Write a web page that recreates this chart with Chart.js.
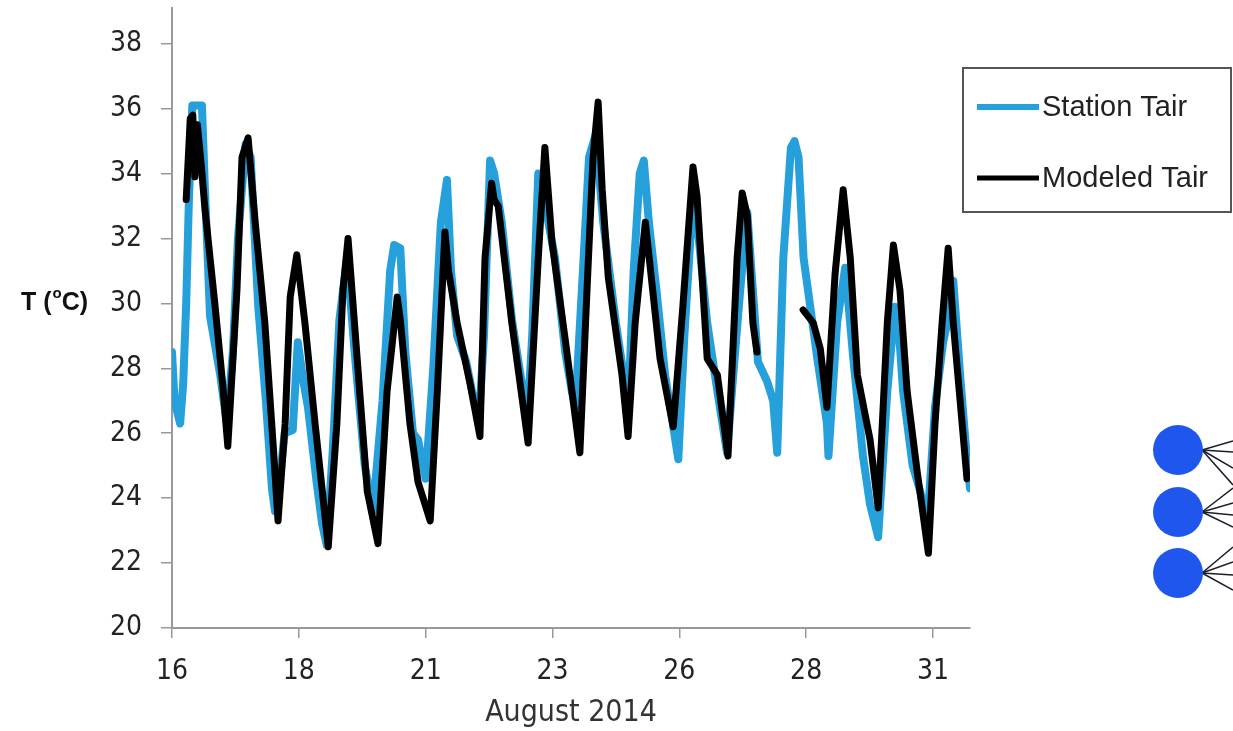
<!DOCTYPE html>
<html>
<head>
<meta charset="utf-8">
<title>Station vs Modeled Tair</title>
<script src="https://cdn.jsdelivr.net/npm/chart.js@4.4.1/dist/chart.umd.min.js"></script>
<style>
  html, body { margin: 0; padding: 0; background: #fff; }
  #wrap { width: 1233px; height: 731px; }
</style>
</head>
<body>
<div id="wrap"><canvas id="tairChart" width="1233" height="731"></canvas></div>
<script>
// Station Tair (day of August 2014, deg C)
const stationDays = [16.00, 16.05, 16.16, 16.22, 16.28, 16.33, 16.40, 16.59, 16.65, 16.75, 16.95, 17.08,
  17.20, 17.30, 17.45, 17.55, 17.70, 17.85, 17.97, 18.03, 18.12, 18.22, 18.38, 18.48, 18.60, 18.68,
  18.85, 18.96, 19.05, 19.17, 19.30, 19.45, 19.60, 19.80, 19.96, 20.15, 20.30, 20.38, 20.50, 20.60,
  20.75, 20.85, 21.00, 21.15, 21.30, 21.42, 21.50, 21.62, 21.80, 21.95, 22.05, 22.15, 22.27, 22.35,
  22.50, 22.70, 22.90, 23.02, 23.10, 23.22, 23.30, 23.55, 23.75, 23.88, 23.95, 24.10, 24.22, 24.35,
  24.50, 24.75, 24.95, 25.00, 25.10, 25.22, 25.30, 25.40, 25.55, 25.72, 25.85, 25.98, 26.10, 26.27,
  26.35, 26.55, 26.75, 26.94, 27.10, 27.20, 27.34, 27.40, 27.55, 27.73, 27.85, 27.93, 28.05, 28.20,
  28.27, 28.35, 28.45, 28.72, 28.91, 28.94, 29.11, 29.27, 29.43, 29.62, 29.76, 29.92, 30.10, 30.25,
  30.30, 30.41, 30.60, 30.75, 30.89, 31.04, 31.20, 31.28, 31.40, 31.55, 31.68, 31.73];
const stationTemp = [28.5, 27.0, 26.3, 27.5, 30.0, 33.0, 36.1, 36.1, 33.5, 29.6, 27.8, 26.3,
  28.5, 32.0, 34.9, 34.5, 29.9, 27.0, 24.3, 23.6, 24.5, 26.0, 26.1, 28.8, 27.5, 26.8,
  24.5, 23.2, 22.55, 25.5, 29.5, 31.4, 28.5, 25.0, 23.6, 27.0, 31.0, 31.8, 31.7, 28.5,
  26.0, 25.8, 24.6, 28.0, 32.5, 33.8, 31.0, 29.0, 28.2, 27.0, 26.4, 29.0, 34.4, 34.0,
  32.5, 29.5, 27.5, 26.8, 29.0, 34.0, 33.5, 31.4, 28.5, 27.3, 26.8, 31.0, 34.5, 35.2,
  32.5, 29.4, 27.3, 27.0, 31.0, 34.0, 34.4, 32.5, 30.4, 27.8, 26.5, 25.2, 29.0, 33.3,
  32.5, 29.4, 27.3, 25.4, 28.5, 30.4, 32.8, 31.5, 28.2, 27.6, 27.0, 25.4, 31.4, 34.8,
  35.0, 34.5, 31.4, 28.3, 26.3, 25.3, 29.4, 31.1, 28.3, 25.3, 23.8, 22.8, 27.3, 29.9,
  29.8, 27.3, 25.0, 24.2, 23.2, 26.8, 28.8, 29.4, 30.7, 27.5, 25.0, 24.3];

// Modeled Tair (null = no model output)
const modeledDays = [16.28, 16.36, 16.41, 16.45, 16.50, 16.58, 16.65, 16.85, 17.00, 17.10, 17.28, 17.38,
  17.50, 17.64, 17.83, 18.00, 18.09, 18.23, 18.33, 18.46, 18.62, 18.82, 19.08, 19.25, 19.37, 19.47,
  19.65, 19.85, 20.06, 20.24, 20.44, 20.50, 20.69, 20.85, 21.09, 21.23, 21.38, 21.45, 21.62, 21.88,
  22.07, 22.17, 22.30, 22.35, 22.43, 22.70, 23.02, 23.22, 23.35, 23.49, 23.75, 24.04, 24.18, 24.30,
  24.40, 24.48, 24.60, 24.87, 24.99, 25.13, 25.33, 25.40, 25.62, 25.88, 26.07, 26.27, 26.35, 26.55,
  26.75, 26.96, 27.14, 27.24, 27.34, 27.45, 27.53, 27.60, 28.44, 28.64, 28.78, 28.91, 29.07, 29.23,
  29.37, 29.51, 29.76, 29.92, 30.10, 30.22, 30.35, 30.49, 30.69, 30.91, 31.04, 31.18, 31.30, 31.40, 31.67];
const modeledTemp = [33.2, 35.7, 35.8, 33.9, 35.5, 34.2, 32.9, 29.9, 27.5, 25.6, 30.4, 34.5,
  35.1, 32.5, 29.4, 25.5, 23.3, 26.3, 30.2, 31.5, 29.4, 26.3, 22.5, 26.3, 30.4, 32.0,
  28.3, 24.2, 22.6, 27.3, 30.2, 29.5, 26.3, 24.5, 23.3, 27.3, 32.2, 31.0, 29.4, 27.5,
  25.9, 31.4, 33.7, 33.2, 33.0, 29.4, 25.7, 31.4, 34.8, 31.9, 28.9, 25.4, 30.4, 34.5,
  36.2, 33.5, 30.8, 27.8, 25.9, 29.4, 32.5, 31.5, 28.3, 26.2, 29.9, 34.2, 33.3, 28.3,
  27.8, 25.3, 31.4, 33.4, 32.7, 29.4, 28.5, null, 29.8, 29.4, 28.6, 26.8, 30.9, 33.5,
  31.4, 27.8, 25.8, 23.7, 29.4, 31.8, 30.4, 27.3, 24.8, 22.3, 26.3, 29.4, 31.7, 29.4, 24.6];

// axis ticks
const xTickValues = [16, 18.5, 21, 23.5, 26, 28.5, 31];
const xTickLabels = ["16", "18", "21", "23", "26", "28", "31"];
const yTickValues = [20, 22, 24, 26, 28, 30, 32, 34, 36, 38];

const tickFont = { family: '"DejaVu Sans Condensed", "DejaVu Sans", sans-serif', size: 28 };

function toPoints(days, temps) {
  return days.map((d, i) => ({ x: d, y: temps[i] }));
}

// legend box, y title and the side graphic
const extras = {
  id: "extras",
  afterDraw(chart) {
    const ctx = chart.ctx;
    ctx.save();

    // y axis title "T (oC)"
    ctx.fillStyle = "#111";
    ctx.textBaseline = "alphabetic";
    ctx.textAlign = "left";
    ctx.font = 'bold 25px "Liberation Sans", Arial, sans-serif';
    let tx = 21;
    ctx.fillText("T (", tx, 310);
    tx += ctx.measureText("T (").width + 1;
    ctx.font = 'bold 15px "Liberation Sans", Arial, sans-serif';
    ctx.fillText("o", tx, 298);
    tx += ctx.measureText("o").width;
    ctx.font = 'bold 25px "Liberation Sans", Arial, sans-serif';
    ctx.fillText("C)", tx, 310);

    // legend
    ctx.strokeStyle = "#555";
    ctx.lineWidth = 2;
    ctx.strokeRect(963, 68, 268, 144);
    const rows = [107, 178];
    chart.data.datasets.forEach((ds, i) => {
      ctx.strokeStyle = ds.borderColor;
      ctx.lineWidth = i === 0 ? 6 : 5;
      ctx.beginPath();
      ctx.moveTo(977, rows[i]);
      ctx.lineTo(1039, rows[i]);
      ctx.stroke();
      ctx.fillStyle = "#222";
      ctx.font = '29px "Liberation Sans", Arial, sans-serif';
      ctx.textBaseline = "middle";
      ctx.fillText(ds.label, 1042, rows[i] + 1);
    });

    // blue nodes at the right edge
    const nodes = [450, 512, 573];
    const fans = [[-9, 2, 18, 35], [-24, -9, 3, 15], [-26, -11, 2, 17]];
    ctx.strokeStyle = "#1b1d2b";
    ctx.lineWidth = 1.5;
    nodes.forEach((cy, i) => {
      fans[i].forEach(dy => {
        ctx.beginPath();
        ctx.moveTo(1202, cy);
        ctx.lineTo(1233, cy + dy);
        ctx.stroke();
      });
    });
    ctx.fillStyle = "#1e56ee";
    nodes.forEach(cy => {
      ctx.beginPath();
      ctx.arc(1178, cy, 25, 0, Math.PI * 2);
      ctx.fill();
    });

    ctx.restore();
  }
};

const ctx = document.getElementById("tairChart").getContext("2d");
const tairChart = new Chart(ctx, {
  type: "line",
  data: {
    datasets: [
      {
        label: "Station Tair",
        data: toPoints(stationDays, stationTemp),
        borderColor: "#26a0da",
        borderWidth: 8,
        pointRadius: 0,
        tension: 0,
        borderJoinStyle: "round",
        borderCapStyle: "round",
        order: 2
      },
      {
        label: "Modeled Tair",
        data: toPoints(modeledDays, modeledTemp),
        borderColor: "#000000",
        borderWidth: 7,
        pointRadius: 0,
        tension: 0,
        spanGaps: false,
        borderJoinStyle: "round",
        borderCapStyle: "round",
        order: 1
      }
    ]
  },
  options: {
    responsive: false,
    animation: false,
    layout: { padding: { left: 0, right: 263, top: 8, bottom: 0 } },
    plugins: {
      legend: { display: false },
      tooltip: { enabled: false }
    },
    scales: {
      x: {
        type: "linear",
        min: 16,
        max: 31.73,
        afterFit: (scale) => {
          scale.height = 103;
          scale.paddingLeft = 0;
          scale.paddingRight = 0;
        },
        afterBuildTicks: (scale) => { scale.ticks = xTickValues.map(v => ({ value: v })); },
        ticks: {
          font: tickFont,
          color: "#222",
          padding: 17,
          maxRotation: 0,
          callback: (v) => xTickLabels[xTickValues.indexOf(v)]
        },
        grid: { drawOnChartArea: false, drawTicks: true, tickLength: 10, color: "#999", lineWidth: 1.5 },
        border: { color: "#999", width: 2 },
        title: {
          display: true,
          text: "August 2014",
          color: "#333",
          font: { family: '"DejaVu Sans Condensed", "DejaVu Sans", sans-serif', size: 30 },
          padding: { top: 0, bottom: 0 }
        }
      },
      y: {
        type: "linear",
        min: 20,
        max: 39.1,
        afterFit: (scale) => {
          scale.width = 172;
          scale.paddingTop = 0;
          scale.paddingBottom = 0;
        },
        afterBuildTicks: (scale) => { scale.ticks = yTickValues.map(v => ({ value: v })); },
        ticks: { font: tickFont, color: "#222", padding: 19 },
        grid: { drawOnChartArea: false, drawTicks: true, tickLength: 11, color: "#999", lineWidth: 1.5 },
        border: { color: "#999", width: 2 }
      }
    }
  },
  plugins: [extras]
});
</script>
</body>
</html>
